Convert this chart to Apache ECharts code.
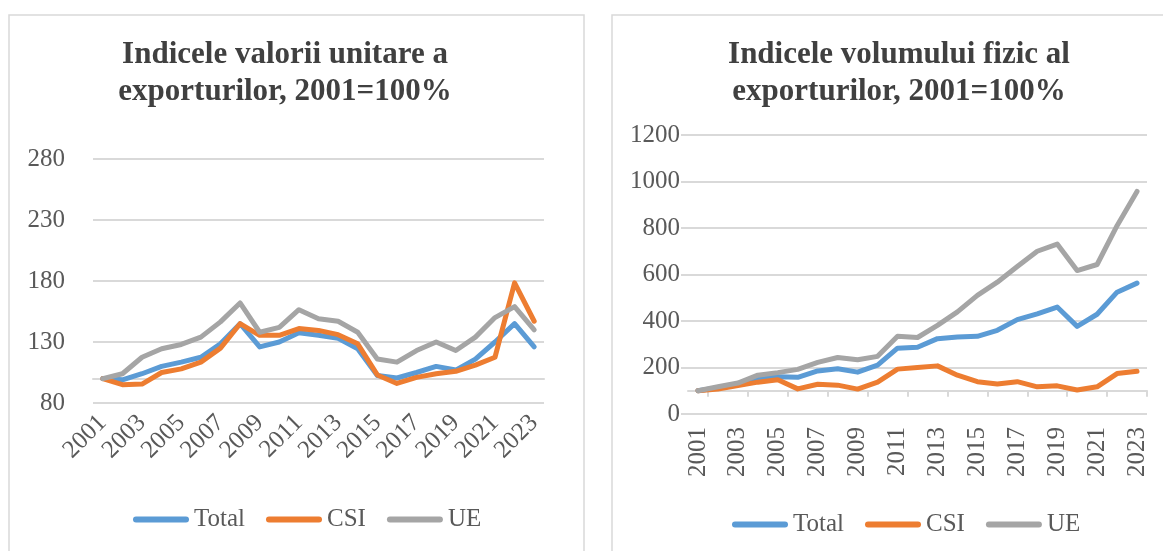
<!DOCTYPE html>
<html>
<head>
<meta charset="utf-8">
<script src="https://cdn.jsdelivr.net/npm/echarts@6/dist/echarts.min.js"></script>
<style>
  html, body { margin: 0; padding: 0; background: #fff; }
  #main { width: 1163px; height: 551px; }
</style>
</head>
<body>
<div id="main"></div>
<script>
(function(){
    var myChart = echarts.init(document.getElementById('main'));

    var years = ['2001','2002','2003','2004','2005','2006','2007','2008','2009','2010','2011','2012',
                 '2013','2014','2015','2016','2017','2018','2019','2020','2021','2022','2023'];

    // Indicele valorii unitare
    var valTotal = [100, 99, 104, 110, 113.5, 117.5, 128.5, 145, 126, 130, 137.5, 135.5, 133, 124.5, 102.5, 100.5, 105, 110, 107, 116, 130, 145, 126];
    var valCSI   = [100, 95, 95.5, 105, 108, 113.5, 125, 145, 135.5, 135.5, 141, 139.5, 136, 128.5, 103, 96, 101, 104, 106, 111, 117.5, 178.5, 147];
    var valUE    = [100, 104, 117.5, 124.5, 128, 134, 146.5, 162, 138, 142, 156.5, 149, 147, 138, 116, 113.5, 123, 130, 123, 134, 150, 159, 140];
    var valTicks = [80, 130, 180, 230, 280];

    // Indicele volumului fizic
    var volTotal = [100, 113, 130, 150, 160, 158, 185, 195, 180, 210, 283, 287, 324, 331, 334, 360, 406, 431, 460, 377, 429, 524, 563];
    var volCSI   = [100, 107, 122, 137, 147, 108, 128, 124, 107, 137, 193, 200, 207, 167, 139, 129, 139, 117, 121, 103, 117, 174, 184];
    var volUE    = [100, 117, 133, 167, 178, 192, 222, 243, 233, 248, 334, 329, 381, 439, 510, 567, 634, 700, 731, 617, 643, 810, 957];
    var volTicks = [0, 200, 400, 600, 800, 1000, 1200];

    var base = 100; // axa orizontala trece prin 100

    var font = 'Liberation Serif';
    var txt = '#595959';
    var gridCol = '#d9d9d9';
    var colors = ['#5b9bd5', '#ed7d31', '#a5a5a5'];

    var g0 = { left: 93, right: 1163 - 544, top: 159, bottom: 551 - 403 };
    var g1 = { left: 688, right: 1163 - 1147, top: 135, bottom: 551 - 414 };
    var h0 = 403 - 159, h1 = 414 - 135;

    var pill = 'path://M3,0 L53,0 A3,3 0 0 1 53,6 L3,6 A3,3 0 0 1 3,0 Z';

    function line(name, data, xi, yi, c) {
        return {
            name: name, type: 'line', data: data,
            xAxisIndex: xi, yAxisIndex: yi,
            symbol: 'none', smooth: false,
            lineStyle: { width: 5, color: c, cap: 'round', join: 'round' },
            itemStyle: { color: c },
            emphasis: { disabled: true }
        };
    }

    var titleStyle = { fontFamily: font, fontSize: 31, fontWeight: 'bold', color: '#404040', lineHeight: 37 };
    var legendText = { fontFamily: font, fontSize: 25, color: txt };

    var option = {
        animation: false,
        backgroundColor: '#fff',
        graphic: [
            { type: 'rect', shape: { x: 9, y: 15, width: 575, height: 560 },
              style: { fill: 'none', stroke: gridCol, lineWidth: 1.5 }, silent: true },
            { type: 'rect', shape: { x: 612, y: 15, width: 580, height: 560 },
              style: { fill: 'none', stroke: gridCol, lineWidth: 1.5 }, silent: true }
        ],
        title: [
            { text: 'Indicele valorii unitare a\nexporturilor, 2001=100%',
              left: 280, top: 31, textAlign: 'center', textStyle: titleStyle },
            { text: 'Indicele volumului fizic al\nexporturilor, 2001=100%',
              left: 894, top: 31, textAlign: 'center', textStyle: titleStyle }
        ],
        legend: [
            { data: ['Total', 'CSI', 'UE'], left: 128, top: 502, icon: pill,
              itemWidth: 56, itemHeight: 6, itemGap: 21, textStyle: legendText },
            { data: ['Total', 'CSI', 'UE'], left: 727, top: 507, icon: pill,
              itemWidth: 56, itemHeight: 6, itemGap: 21, textStyle: legendText }
        ],
        grid: [g0, g1],
        xAxis: [
            { type: 'category', gridIndex: 0, data: years, boundaryGap: true,
              axisLine: { show: false }, axisTick: { show: false },
              axisLabel: { interval: 1, rotate: 45, margin: 16, fontFamily: font, fontSize: 25, color: txt } },
            { type: 'category', gridIndex: 0, data: years, boundaryGap: true, position: 'bottom',
              offset: -h0 * (base - 80) / (280 - 80),
              axisLine: { show: true, lineStyle: { color: gridCol, width: 2 } },
              axisTick: { show: false }, axisLabel: { show: false } },
            { type: 'category', gridIndex: 1, data: years, boundaryGap: true,
              axisLine: { show: false }, axisTick: { show: false },
              axisLabel: { interval: 1, rotate: 90, margin: 13, fontFamily: font, fontSize: 25, color: txt } },
            { type: 'category', gridIndex: 1, data: years, boundaryGap: true, position: 'bottom',
              offset: -h1 * (base - 0) / (1200 - 0),
              axisLine: { show: true, lineStyle: { color: gridCol, width: 2 } },
              axisTick: { show: true, length: 6, lineStyle: { color: gridCol, width: 2 },
                          interval: function (i) { return i % 2 === 1; } },
              axisLabel: { show: false } }
        ],
        yAxis: [
            { type: 'value', gridIndex: 0, min: 80, max: 280,
              axisLine: { show: false },
              axisTick: { show: false, customValues: valTicks },
              axisLabel: { customValues: valTicks, margin: 28, fontFamily: font, fontSize: 25, color: txt },
              splitLine: { show: true, lineStyle: { color: gridCol, width: 2 } } },
            { type: 'value', gridIndex: 1, min: 0, max: 1200, interval: 200,
              axisLine: { show: false },
              axisTick: { show: true, length: 7, lineStyle: { color: gridCol, width: 2 } },
              axisLabel: { margin: 8, fontFamily: font, fontSize: 25, color: txt,
                           formatter: function (v) { return volTicks.indexOf(v) >= 0 ? String(v) : ''; } },
              splitLine: { show: true, lineStyle: { color: gridCol, width: 2 } } }
        ],
        series: [
            line('Total', valTotal, 0, 0, colors[0]),
            line('CSI', valCSI, 0, 0, colors[1]),
            line('UE', valUE, 0, 0, colors[2]),
            line('Total', volTotal, 2, 1, colors[0]),
            line('CSI', volCSI, 2, 1, colors[1]),
            line('UE', volUE, 2, 1, colors[2])
        ]
    };

    myChart.setOption(option);
})()
</script>
</body>
</html>
